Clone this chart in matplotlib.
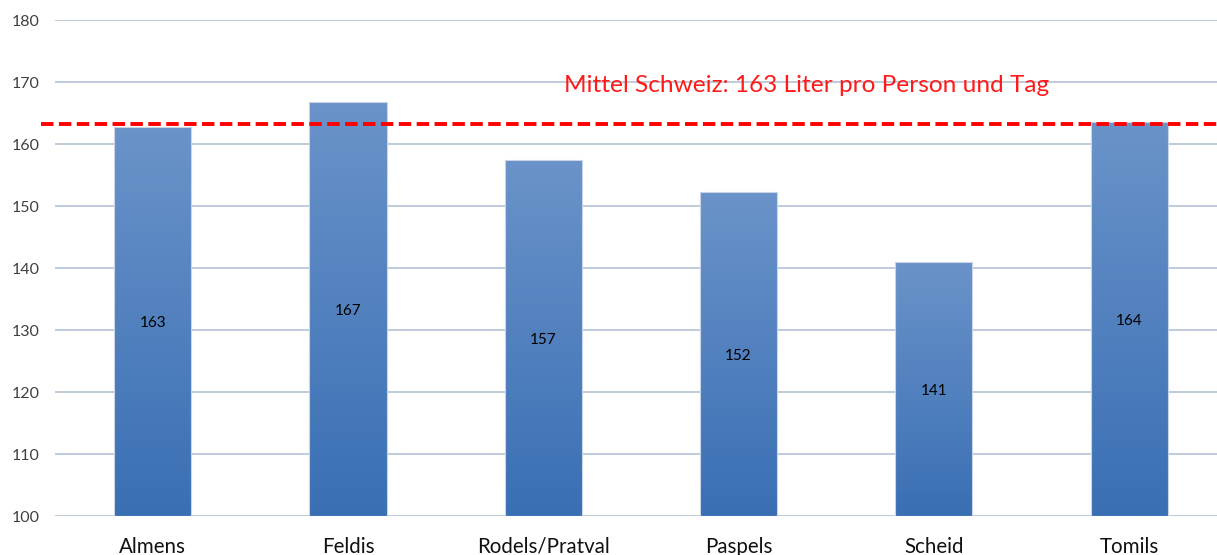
import matplotlib
matplotlib.use("Agg")
import matplotlib.pyplot as plt
import numpy as np
from matplotlib.colors import LinearSegmentedColormap

categories = ["Almens", "Feldis", "Rodels/Pratval", "Paspels", "Scheid", "Tomils"]
values = [162.7, 166.8, 157.4, 152.3, 141.0, 163.5]
labels = ["163", "167", "157", "152", "141", "164"]
mean_ch = 163.2
mean_text = "Mittel Schweiz: 163 Liter pro Person und Tag"
yticks = [100, 110, 120, 130, 140, 150, 160, 170, 180]

plt.rcParams['font.family'] = ['Lato', 'DejaVu Sans']

fig = plt.figure(figsize=(12.17, 5.55), dpi=100)
ax = fig.add_axes([55/1217, 39/555, 1162/1217, 496/555])
ax.set_xlim(-0.5, 5.45)
ax.set_ylim(100, 180)

ax.set_yticks(yticks)
ax.yaxis.grid(True, color="#b9c7d9", linewidth=1.3)
ax.set_axisbelow(True)
for s in ax.spines.values():
    s.set_visible(False)
ax.tick_params(axis="y", length=0, labelsize=11.5, labelcolor="#404040", pad=11)
ax.tick_params(axis="x", length=0, labelsize=14.8, labelcolor="#111111", pad=15)

x = np.arange(len(categories))
bars = ax.bar(x, [v - 100 for v in values], bottom=100, width=0.395,
              facecolor="none", edgecolor="#c9d5e6", linewidth=0.8, zorder=3)
cmap = LinearSegmentedColormap.from_list("g", ["#3a6fb4", "#6a93c9"])
grad = np.linspace(0, 1, 256).reshape(-1, 1)
for b in bars:
    x0, y0 = b.get_x(), b.get_y()
    im = ax.imshow(grad, cmap=cmap, origin="lower", aspect="auto",
                   extent=[x0, x0 + b.get_width(), y0, y0 + b.get_height()],
                   zorder=2.5)
    im.set_clip_path(b)
ax.set_xticks(x)
ax.set_xticklabels(categories)

for xi, v, lab in zip(x, values, labels):
    ax.text(xi, (100 + v) / 2 - 0.3, lab, ha="center", va="center", fontsize=11,
            color="black", zorder=4)

ax.plot([-0.57, 5.45], [mean_ch, mean_ch], color="#ff0000", linewidth=2.8,
        dashes=(3.2, 1.4), clip_on=False, zorder=5)
ax.text(3.35, 169.4, mean_text, ha="center", va="center", fontsize=17.6,
        color="#ff1a1a", zorder=5)

ax.set_xlim(-0.5, 5.45)
fig.savefig("out.png", dpi=100)
